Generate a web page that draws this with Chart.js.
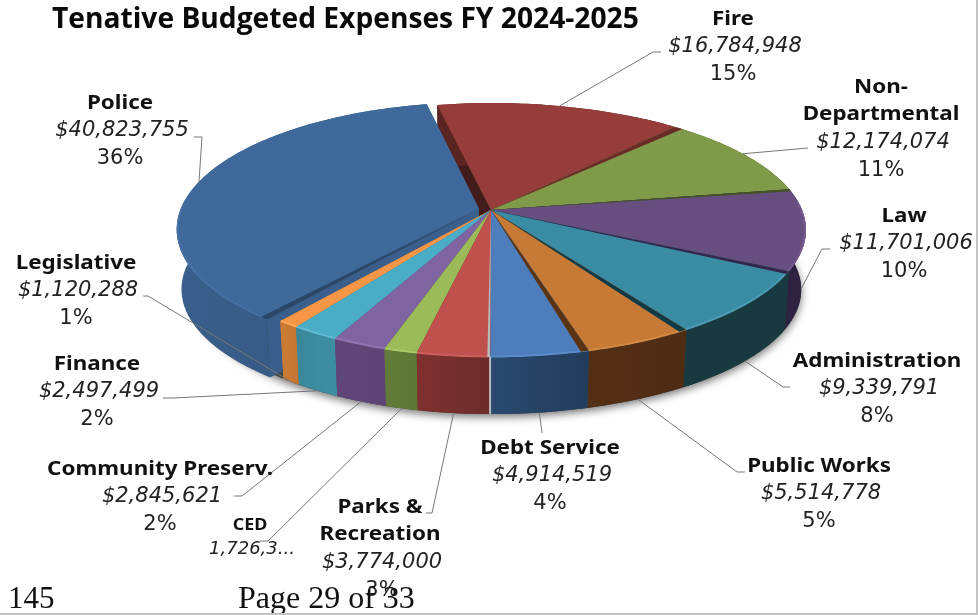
<!DOCTYPE html>
<html>
<head>
<meta charset="utf-8">
<title>Tenative Budgeted Expenses FY 2024-2025</title>
<style>
  html, body { margin: 0; padding: 0; background: #fff; }
  #frame { position: relative; width: 978px; height: 615px; overflow: hidden; }
  #frame canvas { position: absolute; left: 0; top: 0; }
  #edgeRight { position: absolute; left: 976px; top: 0; width: 2px; height: 615px; background: #c4c4c4; }
  #edgeBottom { position: absolute; left: 0; top: 613px; width: 978px; height: 2px; background: #c4c4c4; }
</style>
<script src="https://cdn.jsdelivr.net/npm/chart.js@4"></script>
</head>
<body>
<div id="frame">
  <canvas id="budget" width="978" height="615"></canvas>
  <div id="edgeRight"></div>
  <div id="edgeBottom"></div>
</div>
<script>
// Budget departments, clockwise from the top of the pie
const categories = ['Fire', 'Non-Departmental', 'Law', 'Administration', 'Public Works', 'Debt Service',
  'Parks & Recreation', 'CED', 'Community Preserv.', 'Finance', 'Legislative', 'Police'];
const budgetValues = [16784948, 12174074, 11701006, 9339791, 5514778, 4914519,
  3774000, 1726300, 2845621, 2497499, 1120288, 40823755];
const valueLabels = ['$16,784,948', '$12,174,074', '$11,701,006', '$9,339,791', '$5,514,778', '$4,914,519',
  '$3,774,000', '1,726,3...', '$2,845,621', '$2,497,499', '$1,120,288', '$40,823,755'];
const percentLabels = ['15%', '11%', '10%', '8%', '5%', '4%', '3%', '', '2%', '2%', '1%', '36%'];
const nameLines = [['Fire'], ['Non-', 'Departmental'], ['Law'], ['Administration'], ['Public Works'], ['Debt Service'],
  ['Parks &', 'Recreation'], ['CED'], ['Community Preserv.'], ['Finance'], ['Legislative'], ['Police']];

const topColors = ['#963D3B', '#7F9A48', '#674E7F', '#3A8CA4', '#C67A36', '#4D7EBB',
  '#BF504D', '#9BBB59', '#8064A2', '#4BACC6', '#F79646', '#3F689B'];
const wallColors = ['#5A2423', '#4C5C2B', '#2D2240', '#18393F', '#532F15', '#2A4A70',
  '#7E312F', '#647C3A', '#604678', '#3A8799', '#CC7C34', '#3A5F8C'];
const wallEndColors = ['#5A2423', '#4C5C2B', '#2D2240', '#18393F', '#4E2C14', '#223C5B',
  '#6C2C2A', '#5E7636', '#5E4575', '#3E8EA3', '#C47632', '#31537A'];
const bevelColors = ['#A54543', '#8BA650', '#75598F', '#4A9BB3', '#D08A45', '#5B8CC8',
  '#CB5F5C', '#A9C868', '#9075B2', '#5FBAD2', '#FFA655', '#466FA3'];

// Slice seams: dark radial band along one side of a slice [slice, side, colour, width in degrees]
const seams = [
  [0, 'end', '#6B2A28', 1.9], [1, 'end', '#3F5220', 1.0], [2, 'end', '#33264A', 1.3],
  [3, 'end', '#113A47', 1.4], [4, 'end', '#5A3312', 1.3], [5, 'end', '#B9B9B9', 0.45],
  [11, 'start', '#2A4768', 1.5]
];

// Label layout: centre x, first line y, elbow of the leader line
const labelLayout = [
  { x: 734, y: 19, elbow: [[653, 52], [661, 52]] },
  { x: 882, y: 87, elbow: [[808, 148]] },
  { x: 905, y: 216, elbow: [[822, 249], [830, 249]] },
  { x: 878, y: 361, elbow: [[783, 387], [790, 387]] },
  { x: 820, y: 466, elbow: [[737, 472], [745, 472]] },
  { x: 551, y: 448, elbow: [[542, 433]] },
  { x: 381, y: 507, elbow: [[432, 513], [426, 513]] },
  { x: 251, y: 525, elbow: [[268, 541], [260, 541]], small: true },
  { x: 161, y: 469, elbow: [[242, 496], [234, 496]] },
  { x: 98, y: 364, elbow: [[173, 398], [163, 398]] },
  { x: 77, y: 263, elbow: [[148, 296], [143, 296]] },
  { x: 121, y: 103, elbow: [[202, 137], [194, 137]] }
];

// Tilted-disc projection of a unit circle; near edge is larger than far edge,
// and the left side is drawn a little narrower to hold the pulled-out slice
const disc = { cx: 491, cy: 210, a: 123.85, b: 311, k: 0.1575, depth: 60, baseX: 0.985, baseY: 0.98, leftX: 0.96 };
function project(u, v, level) {
  const w = 1 / (1 + disc.k * v);
  const side = u < 0 ? disc.leftX : 1;
  return {
    x: disc.cx + disc.b * u * w * side * (level ? disc.baseX : 1),
    y: disc.cy - disc.a * v * w * (level ? disc.baseY : 1) + (level ? disc.depth : 0)
  };
}
function arcPoint(arc, angle, radius, level) {
  const off = (arc.options.offset || 0) / 4 / arc.outerRadius;
  const mid = (arc.startAngle + arc.endAngle) / 2;
  const u = radius * Math.cos(angle) + off * Math.cos(mid);
  const v = -(radius * Math.sin(angle) + off * Math.sin(mid));
  return project(u, v, level);
}
function rimAngles(from, to) {
  const n = Math.max(2, Math.ceil(Math.abs(to - from) / (Math.PI / 180)));
  const list = [];
  for (let i = 0; i <= n; i++) list.push(from + (to - from) * i / n);
  return list;
}
function polygon(ctx, pts) {
  ctx.beginPath();
  pts.forEach((p, i) => i ? ctx.lineTo(p.x, p.y) : ctx.moveTo(p.x, p.y));
  ctx.closePath();
}
function paintPie(chart) {
  const ctx = chart.ctx;
  const arcs = chart.getDatasetMeta(0).data;
  const midV = a => -Math.sin((a.startAngle + a.endAngle) / 2);
  const order = arcs.map((a, i) => i).sort((p, q) => midV(arcs[q]) - midV(arcs[p]));

  // soft shadow under the base of the pie
  const baseOutline = rimAngles(0, Math.PI * 2).map(t => project(Math.cos(t), -Math.sin(t), 1));
  ctx.save();
  ctx.shadowColor = 'rgba(0,0,0,0.55)';
  ctx.shadowBlur = 9;
  ctx.shadowOffsetY = 3;
  ctx.fillStyle = '#444';
  polygon(ctx, baseOutline);
  ctx.fill();
  ctx.restore();

  order.forEach(i => {
    const arc = arcs[i];
    const s = arc.startAngle, e = arc.endAngle;
    const rim = rimAngles(s, e);
    // radial side walls
    ctx.fillStyle = i === 0 ? '#421C1A' : wallColors[i];
    [s, e].forEach(t => {
      polygon(ctx, [arcPoint(arc, t, 0, 0), arcPoint(arc, t, 1, 0), arcPoint(arc, t, 1, 1), arcPoint(arc, t, 0, 1)]);
      ctx.fill();
    });
    // curved outer wall
    const upper = rim.map(t => arcPoint(arc, t, 1, 0));
    const lower = rim.map(t => arcPoint(arc, t, 1, 1));
    const xs = upper.map(p => p.x);
    const grad = ctx.createLinearGradient(Math.min(...xs), 0, Math.max(...xs), 0);
    grad.addColorStop(0, wallColors[i]);
    grad.addColorStop(1, wallEndColors[i]);
    ctx.fillStyle = grad;
    polygon(ctx, upper.concat(lower.slice().reverse()));
    ctx.fill();
    // top face
    ctx.fillStyle = topColors[i];
    polygon(ctx, [arcPoint(arc, s, 0, 0)].concat(upper));
    ctx.fill();
  });

  // lit bevel around the near rim
  ctx.save();
  ctx.lineWidth = 2;
  order.forEach(i => {
    const arc = arcs[i];
    const pts = rimAngles(arc.startAngle, arc.endAngle)
      .filter(t => -Math.sin(t) < 0.08)
      .map(t => arcPoint(arc, t, 0.997, 0));
    if (pts.length < 2) return;
    ctx.strokeStyle = bevelColors[i];
    ctx.beginPath();
    pts.forEach((p, j) => j ? ctx.lineTo(p.x, p.y) : ctx.moveTo(p.x, p.y));
    ctx.stroke();
  });
  ctx.restore();

  // radial seams between slices
  seams.forEach(([i, side, colour, width]) => {
    const arc = arcs[i];
    const d = width * Math.PI / 180;
    const from = side === 'end' ? arc.endAngle : arc.startAngle;
    const to = from + d;
    ctx.fillStyle = colour;
    polygon(ctx, [arcPoint(arc, from, 0, 0)].concat(rimAngles(from, to).map(t => arcPoint(arc, t, 1, 0))));
    ctx.fill();
  });

  // pale sliver down the wall between Debt Service and Parks & Recreation
  const debt = arcs[5];
  const a = arcPoint(debt, debt.endAngle, 1, 0), b = arcPoint(debt, debt.endAngle, 1, 1);
  ctx.strokeStyle = '#B9B9B9';
  ctx.lineWidth = 2;
  ctx.beginPath();
  ctx.moveTo(a.x, a.y);
  ctx.lineTo(b.x, b.y);
  ctx.stroke();
}

function drawLine(ctx, text, cx, y, font, colour, stretch) {
  ctx.save();
  ctx.translate(cx, y);
  ctx.scale(stretch, 1);
  ctx.font = font;
  ctx.fillStyle = colour;
  ctx.textAlign = 'center';
  ctx.textBaseline = 'middle';
  ctx.fillText(text, 0, 0);
  ctx.restore();
}

function paintLabels(chart) {
  const ctx = chart.ctx;
  const arcs = chart.getDatasetMeta(0).data;
  const lineStep = 27.7;

  // leader lines start on the rim at each slice's middle angle
  ctx.strokeStyle = '#777';
  ctx.lineWidth = 1;
  arcs.forEach((arc, i) => {
    const mid = (arc.startAngle + arc.endAngle) / 2;
    const start = arcPoint(arc, mid, 1, -Math.sin(mid) > 0 ? 0 : 1);
    ctx.beginPath();
    ctx.moveTo(start.x, start.y);
    labelLayout[i].elbow.forEach(p => ctx.lineTo(p[0], p[1]));
    ctx.stroke();
  });

  labelLayout.forEach((place, i) => {
    let y = place.y;
    nameLines[i].forEach(line => {
      drawLine(ctx, line, place.x - 1, y, place.small ? 'bold 16px "Noto Sans"' : 'bold 20px "Noto Sans"', '#111', 1.12);
      y += place.small ? 24 : lineStep;
    });
    drawLine(ctx, valueLabels[i], place.x + 1, y, place.small ? 'italic 18px "DejaVu Sans"' : 'italic 21px "DejaVu Sans"', '#222', 1);
    y += lineStep;
    if (percentLabels[i]) drawLine(ctx, percentLabels[i], place.x + (i === 6 ? 2 : 0) - 1, y, '21px "DejaVu Sans"', '#222', 1);
  });

  // page footer printed across the bottom of the sheet
  ctx.save();
  ctx.fillStyle = '#111';
  ctx.textAlign = 'left';
  ctx.textBaseline = 'alphabetic';
  ctx.font = '31px "Liberation Serif"';
  ctx.fillText('145', 8, 608);
  ctx.font = '32px "Liberation Serif"';
  ctx.fillText('Page 29 of 33', 238, 608);
  ctx.restore();
}

const tiltedPie = {
  id: 'tiltedPie',
  beforeDatasetsDraw(chart) {
    paintPie(chart);
    return false;
  },
  afterDraw(chart) {
    paintLabels(chart);
  }
};

new Chart(document.getElementById('budget'), {
  type: 'pie',
  data: {
    labels: categories,
    datasets: [{
      data: budgetValues,
      backgroundColor: topColors,
      borderWidth: 0,
      offset: [0, 0, 0, 0, 0, 0, 0, 0, 0, 0, 0, 44]
    }]
  },
  options: {
    responsive: false,
    animation: false,
    rotation: -12,
    layout: { padding: { left: 52 } },
    plugins: {
      legend: { display: false },
      tooltip: { enabled: false },
      title: {
        display: true,
        text: 'Tenative Budgeted Expenses FY 2024-2025',
        align: 'start',
        color: '#0a0a0a',
        font: { family: '"Open Sans"', size: 28.2, weight: 'bold' },
        padding: { top: 3, bottom: 4 }
      }
    }
  },
  plugins: [tiltedPie]
});
</script>
</body>
</html>
